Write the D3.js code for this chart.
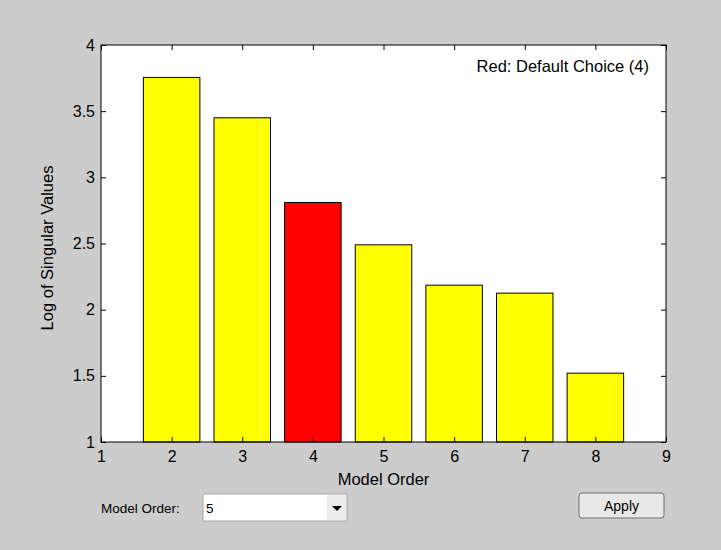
<!DOCTYPE html>
<html>
<head>
<meta charset="utf-8">
<script src="https://cdn.jsdelivr.net/npm/d3@7"></script>
<style>
  body { margin: 0; background: #cccccc; }
  svg { display: block; font-family: "Liberation Sans", Arial, Helvetica, sans-serif; }
</style>
</head>
<body>
<div id="chart"></div>
<script>
// model orders and their log singular values
const orders = [2, 3, 4, 5, 6, 7, 8];
const logSV = [3.755, 3.45, 2.81, 2.49, 2.185, 2.125, 1.52];
const defaultOrder = 4;
const xTicks = [1, 2, 3, 4, 5, 6, 7, 8, 9];
const yTicks = [1, 1.5, 2, 2.5, 3, 3.5, 4];

const W = 721, H = 550;
const margin = {top: 45, right: 55, bottom: 108, left: 101};
const width = W - margin.left - margin.right;
const height = H - margin.top - margin.bottom;

const svg = d3.select("#chart").append("svg")
    .attr("width", W)
    .attr("height", H);

svg.append("rect").attr("width", W).attr("height", H).attr("fill", "#cccccc");

const g = svg.append("g").attr("transform", `translate(${margin.left},${margin.top})`);

const x = d3.scaleLinear().domain([1, 9]).range([0, width]);
const y = d3.scaleLinear().domain([1, 4]).range([height, 0]);

g.append("rect").attr("width", width).attr("height", height).attr("fill", "#fff");

// bars
const bw = (x(2) - x(1)) * 0.8;
g.selectAll(".bar").data(orders).join("rect")
    .attr("class", "bar")
    .attr("x", d => x(d) - bw / 2)
    .attr("y", (d, i) => y(logSV[i]))
    .attr("width", bw)
    .attr("height", (d, i) => y(1) - y(logSV[i]))
    .attr("fill", d => d === defaultOrder ? "#ff0000" : "#ffff00")
    .attr("stroke", "#000")
    .attr("stroke-width", 1);

// axes, ticks pointing inward on all four sides
const tickFont = "16px";
function styleAxis(sel) {
    sel.select(".domain").remove();
    sel.selectAll("line").attr("stroke", "#000");
    sel.selectAll("text").attr("fill", "#000").style("font-size", tickFont);
}
g.append("g").attr("transform", `translate(0,${height})`)
    .call(d3.axisBottom(x).tickValues(xTicks).tickSizeInner(-5).tickSizeOuter(0).tickPadding(9).tickFormat(d3.format("d")))
    .call(styleAxis);
g.append("g")
    .call(d3.axisTop(x).tickValues(xTicks).tickSizeInner(-5).tickSizeOuter(0).tickFormat(""))
    .call(styleAxis);
g.append("g")
    .call(d3.axisLeft(y).tickValues(yTicks).tickSizeInner(-5).tickSizeOuter(0).tickPadding(6).tickFormat(d3.format("")))
    .call(styleAxis);
g.append("g").attr("transform", `translate(${width},0)`)
    .call(d3.axisRight(y).tickValues(yTicks).tickSizeInner(-5).tickSizeOuter(0).tickFormat(""))
    .call(styleAxis);

g.append("rect").attr("width", width).attr("height", height)
    .attr("fill", "none").attr("stroke", "#000").attr("stroke-width", 1);

// labels
g.append("text")
    .attr("x", width / 2).attr("y", height + 43)
    .attr("text-anchor", "middle").style("font-size", "16.5px")
    .text("Model Order");
g.append("text")
    .attr("transform", `translate(-48,203) rotate(-90)`)
    .attr("text-anchor", "middle").style("font-size", "16.5px")
    .text("Log of Singular Values");
g.append("text")
    .attr("x", width - 17).attr("y", 27)
    .attr("text-anchor", "end").style("font-size", "16.5px")
    .text(`Red: Default Choice (${defaultOrder})`);

// bottom controls
svg.append("text").attr("x", 101).attr("y", 513)
    .style("font-size", "13.5px").text("Model Order:");

const dd = svg.append("g").attr("transform", "translate(203,494)");
dd.append("rect").attr("width", 144).attr("height", 27).attr("rx", 1)
    .attr("fill", "#fff").attr("stroke", "#a8a8b0");
dd.append("rect").attr("x", 124).attr("y", 1).attr("width", 19).attr("height", 25)
    .attr("fill", "#ececec");
dd.append("path").attr("d", "M129,12 L139,12 L134,17 Z").attr("fill", "#000");
dd.append("text").attr("x", 3).attr("y", 19).style("font-size", "13.5px").text("5");

const btn = svg.append("g").attr("transform", "translate(579,493)");
btn.append("rect").attr("width", 85).attr("height", 25).attr("rx", 3)
    .attr("fill", "#e8e8e8").attr("stroke", "#707070");
btn.append("text").attr("x", 42.5).attr("y", 18).attr("text-anchor", "middle")
    .style("font-size", "14px").text("Apply");
</script>
</body>
</html>
